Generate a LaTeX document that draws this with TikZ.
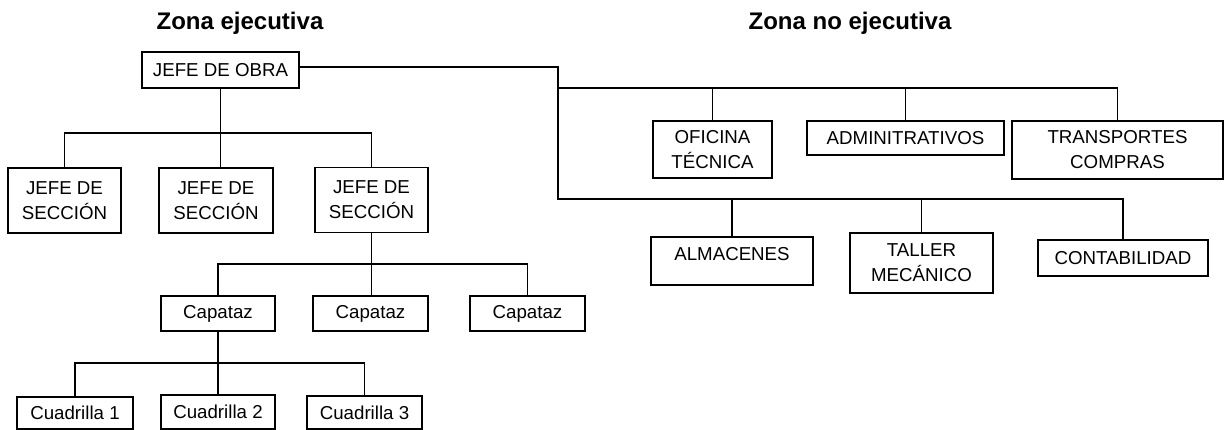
\documentclass[tikz,border=0pt]{standalone}
\usepackage{fontspec}
\setmainfont{Liberation Sans}
\usepackage{tikz}
\usetikzlibrary{positioning}
\tikzstyle{box}  = [rectangle, draw=black, line width=1.8pt, align=center,
                    inner sep=0pt, font=\fontsize{18.7}{25}\selectfont]
\tikzstyle{zone} = [font=\fontsize{24}{28}\selectfont\bfseries]
\tikzstyle{link} = [line width=1.8pt]

\begin{document}
\begin{tikzpicture}[x=1pt, y=-1pt]
  \useasboundingbox (0,0) rectangle (1225,430);

  \node[zone] (ejec)   at (240,23) {Zona ejecutiva};
  \node[zone] (noejec) at (850,23) {Zona no ejecutiva};

  % zona ejecutiva
  \node[box, minimum width=157pt, minimum height=36pt] (jefe) at (220.5,70) {JEFE DE OBRA};
  \node[box, minimum width=113pt, minimum height=65pt] (sec1) at (64.5,200.5) {JEFE DE\\SECCIÓN};
  \node[box, minimum width=114pt, minimum height=65pt] (sec2) at (216,200.5) {JEFE DE\\SECCIÓN};
  \node[box, minimum width=113pt, minimum height=65pt] (sec3) at (371.5,200) {JEFE DE\\SECCIÓN};
  \node[box, minimum width=114pt, minimum height=35pt] (cap1) at (218,313.5) {Capataz};
  \node[box, minimum width=115pt, minimum height=35pt] (cap2) at (370.5,313.5) {Capataz};
  \node[box, minimum width=115pt, minimum height=35pt] (cap3) at (527.5,313.5) {Capataz};
  \node[box, minimum width=116pt, minimum height=32pt] (cua1) at (75,413) {Cuadrilla 1};
  \node[box, minimum width=114pt, minimum height=34pt] (cua2) at (218,412) {Cuadrilla 2};
  \node[box, minimum width=115pt, minimum height=33pt] (cua3) at (364.5,412.5) {Cuadrilla 3};

  % zona no ejecutiva
  \node[box, minimum width=119pt, minimum height=57pt] (ofi) at (712.5,149.5) {OFICINA\\TÉCNICA};
  \node[box, minimum width=197pt, minimum height=34pt] (adm) at (905.5,138) {ADMINITRATIVOS};
  \node[box, minimum width=211pt, minimum height=58pt] (tra) at (1117.5,150) {TRANSPORTES\\COMPRAS};
  \node[box, minimum width=162pt, minimum height=48pt] (alm) at (732,261) {ALMACENES\\[-10pt]\mbox{}};
  \node[box, minimum width=143pt, minimum height=60pt] (tal) at (921.5,263) {TALLER\\MECÁNICO};
  \node[box, minimum width=170pt, minimum height=36pt] (con) at (1123,258) {CONTABILIDAD};

  \coordinate (busA) at (0,133);
  \coordinate (busB) at (0,264);
  \coordinate (busC) at (0,363);
  \coordinate (nj)   at (558,67);
  \coordinate (busD) at (0,88);
  \coordinate (busE) at (0,199);

  \draw[link] (jefe.south) -- (jefe.south |- sec2.north);
  \draw[link] (sec1.north) -- (sec1.north |- busA) -- (sec3.north |- busA) -- (sec3.north);
  \draw[link] (sec3.south) -- (sec3.south |- cap2.north);
  \draw[link] (cap1.north) -- (cap1.north |- busB) -- (cap3.north |- busB) -- (cap3.north);
  \draw[link] (cap1.south) -- (cap1.south |- cua2.north);
  \draw[link] (cua1.north) -- (cua1.north |- busC) -- (cua3.north |- busC) -- (cua3.north);

  \draw[link] (jefe.east |- nj) -- (nj) -- (nj |- busE) -- (con.north |- busE) -- (con.north);
  \draw[link] (nj |- busD) -- (tra.north |- busD) -- (tra.north);
  \draw[link] (ofi.north) -- (ofi.north |- busD);
  \draw[link] (adm.north) -- (adm.north |- busD);
  \draw[link] (alm.north) -- (alm.north |- busE);
  \draw[link] (tal.north) -- (tal.north |- busE);
\end{tikzpicture}
\end{document}
